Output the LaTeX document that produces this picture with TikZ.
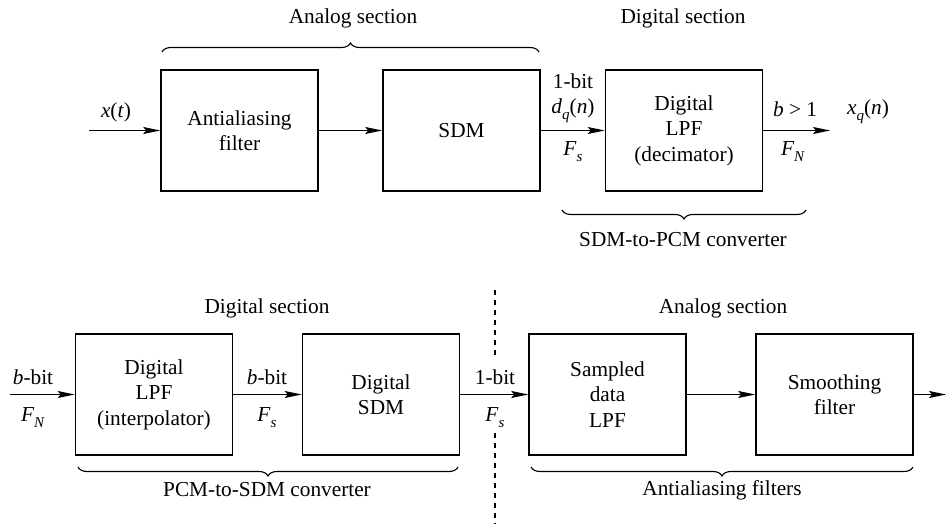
\documentclass[tikz,border=0pt]{standalone}
\usepackage{fontspec}
\setmainfont{Liberation Serif}
\usetikzlibrary{arrows.meta,decorations.pathreplacing}
\newcommand\lowsub[1]{\raisebox{-0.28em}{\fontsize{15}{15}\selectfont\textit{#1}}}
\begin{document}
\begin{tikzpicture}[x=1pt,y=-1pt,
  every node/.style={font=\fontsize{21.3}{25.5}\selectfont, inner sep=0pt, align=center},
  blockbox/.style={draw, line width=1.6pt, minimum width=157pt, minimum height=121pt},
  sig/.style={line width=1.3pt, -{Stealth[length=17pt,width=7pt,inset=3pt]}},
  bracetop/.style={line width=1.1pt, decorate, decoration={brace, amplitude=9pt}},
  bracebot/.style={line width=1.1pt, decorate, decoration={brace, amplitude=9pt, mirror}},
  divider/.style={line width=1.2pt, dash pattern=on 5pt off 5pt}]
\useasboundingbox (0,0) rectangle (946,524);
% ---- top row ----
\node[blockbox] (aaf) at (239.5,130.5) {Antialiasing\\filter};
\node[blockbox] (sdm) at (461.5,130.5) {SDM};
\node[blockbox] (dec) at (684,130.5) {Digital\\LPF\\(decimator)};
\coordinate (xin) at (89,130.5);
\coordinate (xout) at (830,130.5);
\draw[sig] (xin) -- (aaf);
\draw[sig] (aaf) -- (sdm);
\draw[sig] (sdm) -- (dec);
\draw[sig] (dec) -- (xout);
\node (lx) at (116,112) {\textit{x}(\textit{t})};
\node (l1bit) at (573,98) {1-bit\\\textit{d}\lowsub{q}(\textit{n})};
\node (lfs1) at (573,152) {\textit{F}\lowsub{s}};
\node (lb) at (795,109) {\textit{b} > 1};
\node (lfn1) at (793,152) {\textit{F}\lowsub{N}};
\node (lxq) at (868,112) {\textit{x}\lowsub{q}(\textit{n})};
\coordinate (b1a) at (162,52); \coordinate (b1b) at (539,52);
\draw[bracetop] (b1a) -- (b1b);
\node (analog1) at (353,18) {Analog section};
\node (digital1) at (683,18) {Digital section};
\coordinate (b2a) at (562,210); \coordinate (b2b) at (806,210);
\draw[bracebot] (b2a) -- (b2b);
\node (conv1) at (683,240) {SDM-to-PCM converter};
% ---- bottom row ----
\node[blockbox] (interp) at (154,394.5) {Digital\\LPF\\(interpolator)};
\node[blockbox] (dsdm) at (381,394.5) {Digital\\SDM};
\node[blockbox] (sdlpf) at (607.5,394.5) {Sampled\\data\\LPF};
\node[blockbox] (smooth) at (834.5,394.5) {Smoothing\\filter};
\coordinate (pin) at (10,394.5);
\coordinate (pout) at (946,394.5);
\draw[sig] (pin) -- (interp);
\draw[sig] (interp) -- (dsdm);
\draw[sig] (dsdm) -- (sdlpf);
\draw[sig] (sdlpf) -- (smooth);
\draw[sig] (smooth) -- (pout);
\node (lbb1) at (33,377) {\textit{b}-bit};
\node (lfn2) at (33,418) {\textit{F}\lowsub{N}};
\node (lbb2) at (267,377) {\textit{b}-bit};
\node (lfs2) at (267,418) {\textit{F}\lowsub{s}};
\node (l1b2) at (495,377) {1-bit};
\node (lfs3) at (495,418) {\textit{F}\lowsub{s}};
\coordinate (d1) at (495,290); \coordinate (d2) at (495,358);
\coordinate (d3) at (495,433); \coordinate (d4) at (495,524);
\draw[divider] (d1) -- (d2);
\draw[divider] (d3) -- (d4);
\node (digital2) at (267,308) {Digital section};
\node (analog2) at (723,308) {Analog section};
\coordinate (b3a) at (78,467); \coordinate (b3b) at (458,467);
\draw[bracebot] (b3a) -- (b3b);
\node (conv2) at (267,490) {PCM-to-SDM converter};
\coordinate (b4a) at (531,467); \coordinate (b4b) at (913,467);
\draw[bracebot] (b4a) -- (b4b);
\node (aafs) at (722,490) {Antialiasing filters};
\end{tikzpicture}
\end{document}
